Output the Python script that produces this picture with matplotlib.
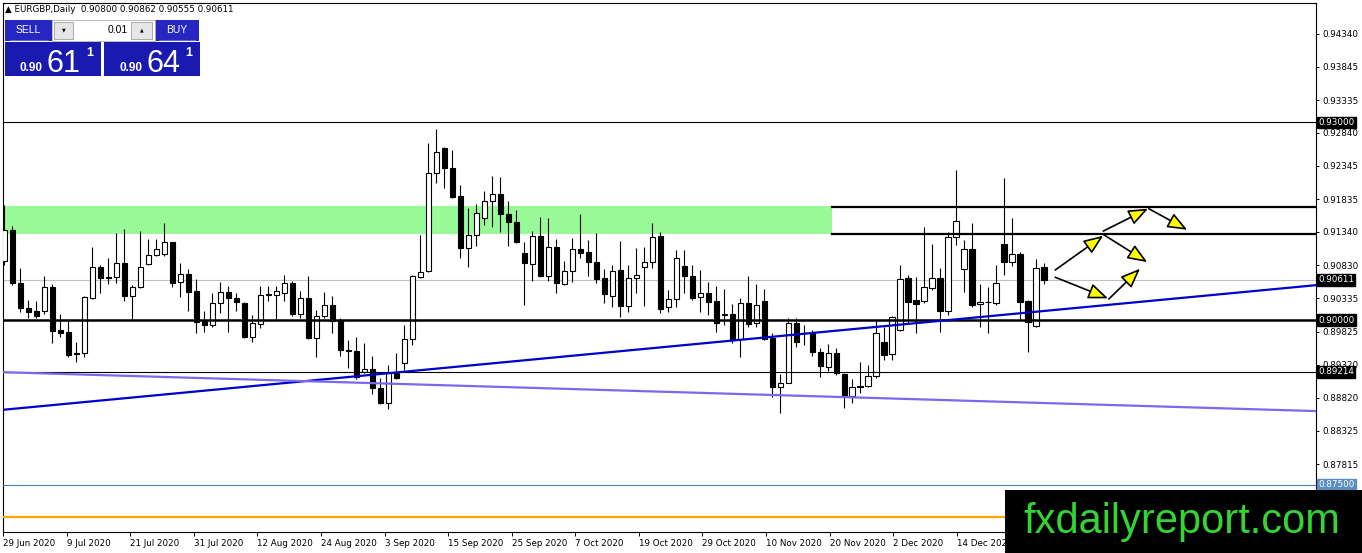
import numpy as np
import matplotlib.pyplot as plt
from matplotlib.patches import Rectangle
import matplotlib.transforms as mtransforms

W, H = 1362, 553

# daily candles, EURGBP
opens = np.array([
    .9090, .9137, .9056, .9018, .9014, .9014, .9050, .8985, .8982, .8950,
    .8950, .9034, .9081, .9065, .9065, .9087, .9037, .9050, .9085, .9099,
    .9100, .9118, .9058, .9070, .9044, .8999, .8993, .9026, .9043, .9034,
    .9026, .8974, .8994, .9038, .9038, .9041, .9056, .9009, .9034, .8973,
    .9006, .9023, .9000, .8955, .8953, .8921, .8926, .8897, .8874, .8920,
    .8935, .8971, .9065, .9075, .9223, .9261, .9231, .9188, .9109, .9129,
    .9155, .9181, .9191, .9161, .9149, .9102, .9085, .9128, .9067, .9111,
    .9055, .9075, .9108, .9103, .9088, .9064, .9037, .9076, .9021, .9064,
    .9081, .9088, .9128, .9020, .9032, .9082, .9067, .9035, .9041, .9029,
    .9009, .9009, .8971, .9026, .8996, .9029, .8973, .8899, .8905, .8996,
    .8981, .8980, .8952, .8929, .8950, .8918, .8885, .8899, .8900, .8915,
    .8967, .8949, .8985, .9064, .9030, .9029, .9049, .9064, .9014, .9126,
    .9077, .9108, .9024, .9027, .9026, .9115, .9088, .9100, .9029, .8991,
    .90800])
highs = np.array([
    .9175, .9143, .9079, .9030, .9029, .9067, .9055, .9009, .8999, .8967,
    .9036, .9111, .9084, .9094, .9132, .9138, .9053, .9135, .9123, .9123,
    .9147, .9119, .9087, .9078, .9062, .9014, .9041, .9058, .9052, .9041,
    .9028, .9008, .9052, .9052, .9052, .9068, .9059, .9044, .9067, .9015,
    .9043, .9037, .9003, .8970, .8974, .8965, .8946, .8912, .8932, .8950,
    .8993, .9068, .9129, .9269, .9290, .9263, .9258, .9205, .9170, .9176,
    .9196, .9219, .9217, .9181, .9167, .9118, .9135, .9156, .9155, .9123,
    .9090, .9125, .9161, .9122, .9132, .9078, .9084, .9120, .9084, .9109,
    .9111, .9147, .9134, .9046, .9106, .9106, .9084, .9076, .9058, .9052,
    .9047, .9024, .9034, .9067, .9055, .9047, .8980, .8918, .9003, .9003,
    .8993, .8985, .8958, .8964, .8958, .8920, .8911, .8936, .8932, .9000,
    .8990, .9006, .9084, .9068, .9065, .9141, .9115, .9079, .9134, .9228,
    .9122, .9147, .9055, .9050, .9084, .9216, .9155, .9103, .9031, .9093,
    .90862])
lows = np.array([
    .9084, .9053, .9012, .9003, .9003, .9009, .8965, .8974, .8944, .8936,
    .8944, .9032, .9041, .9055, .9056, .9029, .9002, .9049, .9084, .9097,
    .9097, .9050, .9035, .9014, .8980, .8982, .8990, .9011, .8982, .9014,
    .8973, .8967, .8988, .9029, .9002, .9029, .9006, .9003, .8972, .8944,
    .9003, .8980, .8946, .8927, .8911, .8920, .8888, .8873, .8865, .8911,
    .8924, .8962, .9064, .9073, .9208, .9200, .9185, .9094, .9081, .9112,
    .9144, .9141, .9134, .9112, .9117, .9023, .9059, .9065, .9059, .9041,
    .9053, .9058, .9094, .9067, .9056, .9026, .9020, .9005, .9012, .9041,
    .9021, .9079, .9011, .9012, .9020, .9041, .9030, .9012, .9008, .8982,
    .8993, .8965, .8944, .8990, .8990, .8970, .8883, .8859, .8904, .8959,
    .8962, .8946, .8914, .8923, .8917, .8867, .8874, .8890, .8899, .8912,
    .8939, .8939, .8984, .8996, .8980, .9026, .9046, .8982, .9008, .9114,
    .9043, .9020, .8990, .8980, .9023, .9068, .9082, .9002, .8952, .8990,
    .90555])
closes = np.array([
    .9137, .9056, .9018, .9012, .9006, .9050, .8983, .8980, .8947, .8949,
    .9035, .9081, .9064, .9064, .9087, .9037, .9050, .9081, .9099, .9108,
    .9118, .9056, .9070, .9043, .8997, .8993, .9026, .9043, .9034, .9027,
    .8974, .8996, .9038, .9039, .9044, .9056, .9009, .9034, .8973, .9006,
    .9023, .8999, .8955, .8953, .8914, .8926, .8897, .8874, .8920, .8912,
    .8971, .9067, .9073, .9223, .9255, .9231, .9187, .9109, .9129, .9162,
    .9181, .9191, .9161, .9149, .9118, .9087, .9128, .9067, .9111, .9056,
    .9075, .9108, .9102, .9088, .9062, .9040, .9075, .9021, .9064, .9068,
    .9088, .9126, .9017, .9032, .9094, .9067, .9034, .9041, .9027, .8996,
    .9008, .8970, .9026, .8994, .9023, .8971, .8899, .8905, .8996, .8967,
    .8980, .8952, .8930, .8950, .8920, .8885, .8899, .8900, .8915, .8980,
    .8947, .9005, .9062, .9027, .9024, .9050, .9064, .9014, .9126, .9150,
    .9108, .9023, .9027, .9028, .9056, .9088, .9100, .9027, .8997, .9079,
    .90611])

date_labels = ["29 Jun 2020", "9 Jul 2020", "21 Jul 2020", "31 Jul 2020",
               "12 Aug 2020", "24 Aug 2020", "3 Sep 2020", "15 Sep 2020",
               "25 Sep 2020", "7 Oct 2020", "19 Oct 2020", "29 Oct 2020",
               "10 Nov 2020", "20 Nov 2020", "2 Dec 2020", "14 Dec 2020"]
price_ticks = [0.94340, 0.93845, 0.93335, 0.92840, 0.92345, 0.91835, 0.91340,
               0.90830, 0.90335, 0.89825, 0.89320, 0.88820, 0.88325, 0.87815]

# horizontal levels drawn on the chart
level_prices = [0.93000, 0.90000, 0.89214, 0.87500]
level_colors = ["black", "black", "black", "#4682b4"]
level_widths = [0.8, 1.8, 0.8, 0.8]
orange_level = 0.8701
current_price = 0.90611

zone_low, zone_high = 0.9131, 0.9173
zone_end = 103.5
res_levels = [0.9172, 0.9131]

blue_trend_x, blue_trend_y = [-0.125, 164.0], [0.8864, 0.9053]
purple_trend_x, purple_trend_y = [-0.125, 164.0], [0.8921, 0.8862]

# scenario arrows (from bar, from price, to bar, to price)
arrows = [
    (131.4, 0.9076, 137.4, 0.9128),
    (137.4, 0.9135, 143.0, 0.9169),
    (143.1, 0.9169, 147.9, 0.9137),
    (137.4, 0.9130, 142.9, 0.9088),
    (131.4, 0.9065, 138.0, 0.9033),
    (138.1, 0.9032, 142.0, 0.9078),
]

fs = 6.3
fig = plt.figure(figsize=(W / 100, H / 100), dpi=100)
fig.patch.set_facecolor("white")
ax = fig.add_axes([3 / W, 21 / H, 1313 / W, 529 / H])
ax.set_xlim(-0.125, 164.0)
ax.set_ylim(0.86786, 0.94810)

x = np.arange(len(opens))
up = closes >= opens
body_lo = np.minimum(opens, closes)
body_h = np.maximum(np.abs(closes - opens), 0.00004)

# background zone
ax.fill_between([-0.125, zone_end], zone_low, zone_high, color="#98fb98",
                lw=0, zorder=1)
ax.axhline(current_price, color="#c0c0c0", lw=0.8, zorder=1.5)

ax.vlines(x, lows, highs, color="black", lw=0.8, zorder=3)
ax.bar(x[up], body_h[up], bottom=body_lo[up], width=0.65, color="white",
       edgecolor="black", lw=0.8, zorder=4)
ax.bar(x[~up], body_h[~up], bottom=body_lo[~up], width=0.65, color="black",
       edgecolor="black", lw=0.8, zorder=4)

for p, c, w in zip(level_prices, level_colors, level_widths):
    ax.axhline(p, color=c, lw=w, zorder=5)
ax.axhline(orange_level, color="#ffa500", lw=1.6, zorder=5)
for p in res_levels:
    ax.plot([zone_end, 164.0], [p, p], color="black", lw=1.6, zorder=5)

ax.plot(blue_trend_x, blue_trend_y, color="#0000cd", lw=1.6, zorder=6)
ax.plot(purple_trend_x, purple_trend_y, color="#7b68ee", lw=1.6, zorder=6)

for x0, y0, x1, y1 in arrows:
    ax.annotate("", xy=(x1, y1), xytext=(x0, y0), zorder=7,
                arrowprops=dict(arrowstyle="-|>,head_length=1.0,head_width=0.4",
                                mutation_scale=12, fc="#ffff00", ec="black",
                                lw=1.2, shrinkA=0, shrinkB=0))

# axes styling
for s in ax.spines.values():
    s.set_color("black")
    s.set_linewidth(0.8)
ax.yaxis.tick_right()
ax.set_yticks(price_ticks)
ax.set_yticklabels([f"{v:.5f}" for v in price_ticks], fontsize=fs)
ax.tick_params(axis="y", length=2.5, width=0.7, pad=2)
ax.set_xticks(np.arange(len(date_labels)) * 7.95 - 0.16)
ax.set_xticklabels(date_labels, fontsize=fs)
for lab in ax.get_xticklabels():
    lab.set_ha("left")
ax.tick_params(axis="x", length=3, width=0.7, pad=2)

# price labels on the right scale
tr = mtransforms.blended_transform_factory(ax.transAxes, ax.transData)
tag_prices = [0.93000, 0.90611, 0.90000, 0.89214, 0.87500]
tag_colors = ["black", "black", "black", "black", "#5a8ec0"]
for p, c in zip(tag_prices, tag_colors):
    ax.text(1.0015, p, f"{p:.5f}", transform=tr, fontsize=fs, color="white",
            va="center", ha="left", clip_on=False, zorder=10,
            bbox=dict(boxstyle="square,pad=0.15", fc=c, ec=c))

# overlay for header, trade panel and watermark
ov = fig.add_axes([0, 0, 1, 1], zorder=5)
ov.set_xlim(0, W)
ov.set_ylim(H, 0)
ov.axis("off")

ov.text(5, 10, "\u25b2 EURGBP,Daily  0.90800 0.90862 0.90555 0.90611",
        fontsize=fs, va="center", ha="left", color="black")

btn = "#2626c2"
box = "#1a1ab0"
ov.add_patch(Rectangle((5, 20), 47, 21, fc=btn, ec="none"))
ov.add_patch(Rectangle((155, 20), 44, 21, fc=btn, ec="none"))
ov.plot([10, 48], [39.5, 39.5], color="#7070e0", lw=0.6)
ov.plot([159, 195], [39.5, 39.5], color="#7070e0", lw=0.6)
ov.text(28.5, 30, "SELL", color="white", fontsize=7.5, ha="center", va="center",
        family="Liberation Sans")
ov.text(177, 30, "BUY", color="white", fontsize=7.5, ha="center", va="center",
        family="Liberation Sans")
ov.add_patch(Rectangle((52, 20), 103, 21, fc="white", ec="#b0b0b0", lw=0.6))
ov.add_patch(Rectangle((54, 22), 19, 17, fc="#e6e6e6", ec="#a0a0a0", lw=0.6))
ov.add_patch(Rectangle((131, 22), 21, 17, fc="#e6e6e6", ec="#a0a0a0", lw=0.6))
ov.text(63.5, 30, "\u25bc", fontsize=3.5, ha="center", va="center")
ov.text(141.5, 30, "\u25b2", fontsize=3.5, ha="center", va="center")
ov.text(128, 30, "0.01", fontsize=7.5, ha="right", va="center",
        family="Liberation Sans")

for bx, big in [(5, "61"), (104, "64")]:
    ov.add_patch(Rectangle((bx, 42), 96, 34, fc=box, ec="none"))
    ov.text(bx + 15, 71, "0.90", color="white", fontsize=8.5, weight="bold",
            ha="left", va="baseline", family="Liberation Sans")
    ov.text(bx + 42, 72, big, color="white", fontsize=22, ha="left",
            va="baseline", family="Liberation Sans")
    ov.text(bx + 81, 56, "1", color="white", fontsize=9, weight="bold",
            ha="left", va="baseline", family="Liberation Sans")

ov.add_patch(Rectangle((1005, 490), W - 1005, H - 490, fc="black", ec="none"))
ov.text(1182, 533, "fxdailyreport.com", color="#33d433", fontsize=30,
        ha="center", va="baseline", family="Liberation Sans")

fig.savefig("out.png", dpi=100)
